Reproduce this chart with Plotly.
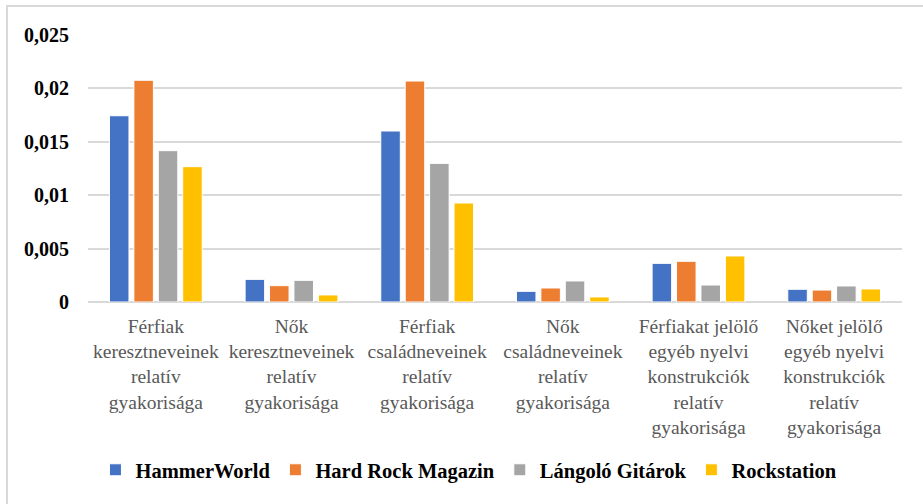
import plotly.graph_objects as go

categories = [
    "Férfiak<br>keresztneveinek<br>relatív<br>gyakorisága",
    "Nők<br>keresztneveinek<br>relatív<br>gyakorisága",
    "Férfiak<br>családneveinek<br>relatív<br>gyakorisága",
    "Nők<br>családneveinek<br>relatív<br>gyakorisága",
    "Férfiakat jelölő<br>egyéb nyelvi<br>konstrukciók<br>relatív<br>gyakorisága",
    "Nőket jelölő<br>egyéb nyelvi<br>konstrukciók<br>relatív<br>gyakorisága",
]

hammerworld = [0.01744, 0.00212, 0.01601, 0.00100, 0.00362, 0.00119]
hard_rock_magazin = [0.02076, 0.00153, 0.02069, 0.00131, 0.00381, 0.00112]
langolo_gitarok = [0.01417, 0.00203, 0.01298, 0.00197, 0.00159, 0.00150]
rockstation = [0.01267, 0.00066, 0.00927, 0.00047, 0.00431, 0.00122]

series_names = ["HammerWorld", "Hard Rock Magazin", "Lángoló Gitárok", "Rockstation"]
series_colors = ["#4472C4", "#ED7D31", "#A5A5A5", "#FFC000"]

y_tickvals = [0, 0.005, 0.01, 0.015, 0.02, 0.025]
y_ticktext = ["0", "0,005", "0,01", "0,015", "0,02", "0,025"]

FONT = "Times New Roman, Liberation Serif, DejaVu Serif, serif"

fig = go.Figure()
for name, vals, col in zip(series_names,
                           [hammerworld, hard_rock_magazin, langolo_gitarok, rockstation],
                           series_colors):
    fig.add_trace(go.Bar(
        x=categories, y=vals, name=name,
        marker=dict(color=col, line=dict(color="white", width=1)),
    ))

fig.update_layout(
    width=923, height=504,
    paper_bgcolor="white", plot_bgcolor="white",
    barmode="group", bargap=0.28, bargroupgap=0.2,
    margin=dict(l=88, r=21, t=35, b=202, autoexpand=False),
    font=dict(family=FONT, size=18, color="#000000"),
    legend=dict(
        orientation="h", x=0.468, xanchor="center", y=-0.629, yanchor="middle",
        font=dict(family=FONT, size=20.5, color="#000000", weight="bold"),
        itemwidth=30, traceorder="normal",
    ),
    shapes=[dict(
        type="rect", xref="paper", yref="paper",
        x0=-81 / 814, x1=1.2, y0=-1.5, y1=1 + 29 / 267,
        line=dict(color="#D9D9D9", width=2), fillcolor="rgba(0,0,0,0)", layer="below",
    )],
)

fig.update_xaxes(
    showgrid=False, showline=False, zeroline=False, ticks="",
    tickfont=dict(family=FONT, size=19.5, color="#595959"),
    ticklabelstandoff=10, tickangle=0, automargin=False,
)
fig.update_yaxes(
    range=[0, 0.025], tickvals=y_tickvals, ticktext=y_ticktext,
    showgrid=True, gridcolor="#D9D9D9", gridwidth=1.5,
    zeroline=True, zerolinecolor="#D9D9D9", zerolinewidth=1.5,
    showline=False, ticks="",
    tickfont=dict(family=FONT, size=20, color="#000000", weight="bold"),
    ticklabelstandoff=18, automargin=False,
)

fig.write_html("out.html", config={"displayModeBar": False},
               post_script="document.body.style.margin='0';")
